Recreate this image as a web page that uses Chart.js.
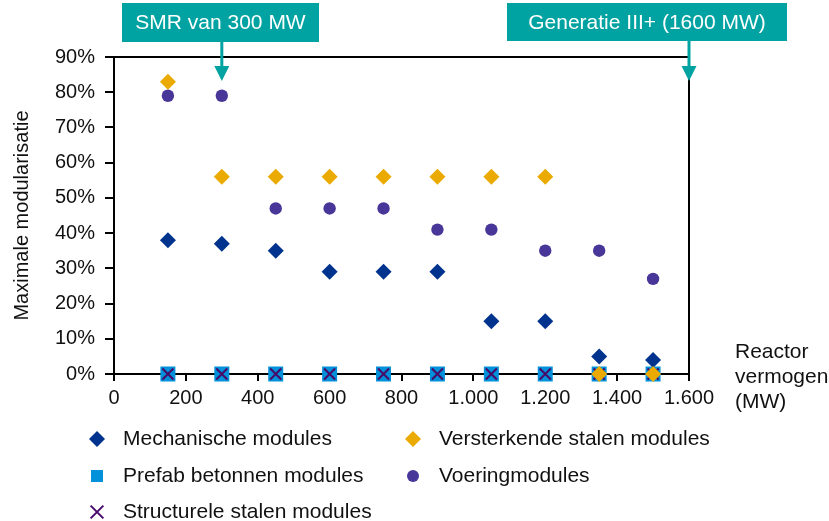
<!DOCTYPE html>
<html>
<head>
<meta charset="utf-8">
<script src="https://cdn.jsdelivr.net/npm/chart.js@4/dist/chart.umd.min.js"></script>
<style>
  body { margin: 0; background: #fff; }
  canvas { display: block; }
</style>
</head>
<body>
<canvas id="modCanvas" width="829" height="521"></canvas>
<script>
// vermogen van de reactor (MW)
const vermogen = [150, 300, 450, 600, 750, 900, 1050, 1200, 1350, 1500];

// maximale modularisatie per type module (%)
const mechanisch = [38, 37, 35, 29, 29, 29, 15, 15, 5, 4];
const versterkend = [83, 56, 56, 56, 56, 56, 56, 56, 0, 0];
const prefabBeton = [0, 0, 0, 0, 0, 0, 0, 0, 0, 0];
const voering = [79, 79, 47, 47, 47, 41, 41, 35, 35, 27];
const structureel = [0, 0, 0, 0, 0, 0, 0, 0, 0, 0];

const labels = ["Mechanische modules", "Versterkende stalen modules", "Prefab betonnen modules", "Voeringmodules", "Structurele stalen modules"];

const FONT = "'Liberation Sans', Arial, sans-serif";

function toPoints(arr) {
    return arr.map((v, i) => ({ x: vermogen[i], y: v }));
}

function formatNL(v) {
    if (v >= 1000) {
        const s = String(v);
        return s.slice(0, s.length - 3) + "." + s.slice(-3);
    }
    return String(v);
}

// legenda in twee kolommen, onder de grafiek
const legendItems = [
    { label: labels[0], col: 0, row: 0, style: 'rectRot', r: 8, fill: '#00338D' },
    { label: labels[1], col: 1, row: 0, style: 'rectRot', r: 8, fill: '#EAAA00' },
    { label: labels[2], col: 0, row: 1, style: 'rect', r: 8.5, fill: '#0091DA' },
    { label: labels[3], col: 1, row: 1, style: 'circle', r: 6, fill: '#483698' },
    { label: labels[4], col: 0, row: 2, style: 'crossRot', r: 9, stroke: '#470A68' },
];

const extrasPlugin = {
    id: 'extras',
    beforeDatasetsDraw(chart) {
        const ctx = chart.ctx;
        const a = chart.chartArea;
        ctx.save();
        ctx.strokeStyle = '#000';
        ctx.lineWidth = 2;
        ctx.beginPath();
        ctx.moveTo(a.left, a.top);
        ctx.lineTo(a.right, a.top);
        ctx.lineTo(a.right, a.bottom);
        ctx.stroke();
        ctx.restore();
    },
    afterDraw(chart) {
        const ctx = chart.ctx;
        const xs = chart.scales.x;
        ctx.save();

        // as-titel rechts van de x-as
        ctx.fillStyle = '#111';
        ctx.font = "21px " + FONT;
        ctx.textAlign = 'left';
        ctx.textBaseline = 'middle';
        ["Reactor", "vermogen", "(MW)"].forEach((t, i) => ctx.fillText(t, 735, 352 + i * 25));

        // callouts
        const callouts = [
            { text: "SMR van 300 MW", at: 300, box: [122, 3, 197, 39] },
            { text: "Generatie III+ (1600 MW)", at: 1600, box: [507, 3, 280, 38] },
        ];
        callouts.forEach(c => {
            const [bx, by, bw, bh] = c.box;
            const px = xs.getPixelForValue(c.at);
            ctx.fillStyle = '#00A3A1';
            ctx.fillRect(bx, by, bw, bh);
            ctx.strokeStyle = '#00A3A1';
            ctx.lineWidth = 3;
            ctx.beginPath();
            ctx.moveTo(px, by + bh);
            ctx.lineTo(px, 67);
            ctx.stroke();
            ctx.beginPath();
            ctx.moveTo(px - 7.5, 66);
            ctx.lineTo(px + 7.5, 66);
            ctx.lineTo(px, 81);
            ctx.closePath();
            ctx.fill();
            ctx.fillStyle = '#fff';
            ctx.font = "21px " + FONT;
            ctx.textAlign = 'center';
            ctx.textBaseline = 'middle';
            ctx.fillText(c.text, bx + bw / 2, by + bh / 2 + 1);
        });

        // legenda
        const colX = [97, 413];
        const rowY = [439, 476, 512];
        legendItems.forEach(it => {
            const x = colX[it.col];
            const y = rowY[it.row];
            ctx.fillStyle = it.fill || 'transparent';
            ctx.strokeStyle = it.stroke || it.fill;
            ctx.lineWidth = 2;
            Chart.helpers.drawPoint(ctx, { pointStyle: it.style, radius: it.r, rotation: 0, borderWidth: it.stroke ? 2 : 0 }, x, y);
            ctx.fillStyle = '#111';
            ctx.font = "21px " + FONT;
            ctx.textAlign = 'left';
            ctx.textBaseline = 'middle';
            ctx.fillText(it.label, x + 26, y);
        });
        ctx.restore();
    }
};

const canvas = document.getElementById("modCanvas");

const modChart = new Chart(canvas, {
    type: 'scatter',
    data: {
        datasets: [{
            label: labels[0],
            data: toPoints(mechanisch),
            pointStyle: 'rectRot',
            pointRadius: 8,
            backgroundColor: '#00338D',
            borderWidth: 0,
            order: 1,
        }, {
            label: labels[1],
            data: toPoints(versterkend),
            pointStyle: 'rectRot',
            pointRadius: 8,
            backgroundColor: '#EAAA00',
            borderWidth: 0,
            order: 0,
        }, {
            label: labels[2],
            data: toPoints(prefabBeton),
            pointStyle: 'rect',
            pointRadius: 10.6,
            backgroundColor: '#0091DA',
            borderWidth: 0,
            order: 4,
        }, {
            label: labels[3],
            data: toPoints(voering),
            pointStyle: 'circle',
            pointRadius: 6.2,
            backgroundColor: '#483698',
            borderWidth: 0,
            order: 2,
        }, {
            label: labels[4],
            data: toPoints(structureel),
            pointStyle: 'crossRot',
            pointRadius: 7.8,
            borderColor: '#470A68',
            borderWidth: 2,
            order: 3,
        }]
    },
    options: {
        responsive: false,
        animation: false,
        clip: false,
        layout: {
            padding: { left: 0, right: 140, top: 57, bottom: 0 }
        },
        plugins: {
            legend: { display: false },
            tooltip: { enabled: false },
        },
        scales: {
            x: {
                min: 0,
                max: 1600,
                afterFit: s => { s.height = 147; },
                border: { display: true, color: '#000', width: 2 },
                grid: { drawOnChartArea: false, drawTicks: true, tickLength: 7, color: '#000', lineWidth: 2 },
                ticks: {
                    stepSize: 200,
                    padding: 5,
                    color: '#111',
                    font: { family: FONT, size: 20 },
                    callback: v => formatNL(v),
                    maxRotation: 0,
                },
            },
            y: {
                min: 0,
                max: 90,
                afterFit: s => { s.width = 114; },
                border: { display: true, color: '#000', width: 2 },
                grid: { drawOnChartArea: false, drawTicks: true, tickLength: 9, color: '#000', lineWidth: 2 },
                ticks: {
                    stepSize: 10,
                    padding: 10,
                    color: '#111',
                    font: { family: FONT, size: 20 },
                    callback: v => v + '%',
                },
                title: {
                    display: true,
                    text: 'Maximale modularisatie',
                    color: '#111',
                    font: { family: FONT, size: 20 },
                    padding: { top: 10, bottom: 0 },
                },
            },
        },
    },
    plugins: [extrasPlugin],
});
</script>
</body>
</html>
